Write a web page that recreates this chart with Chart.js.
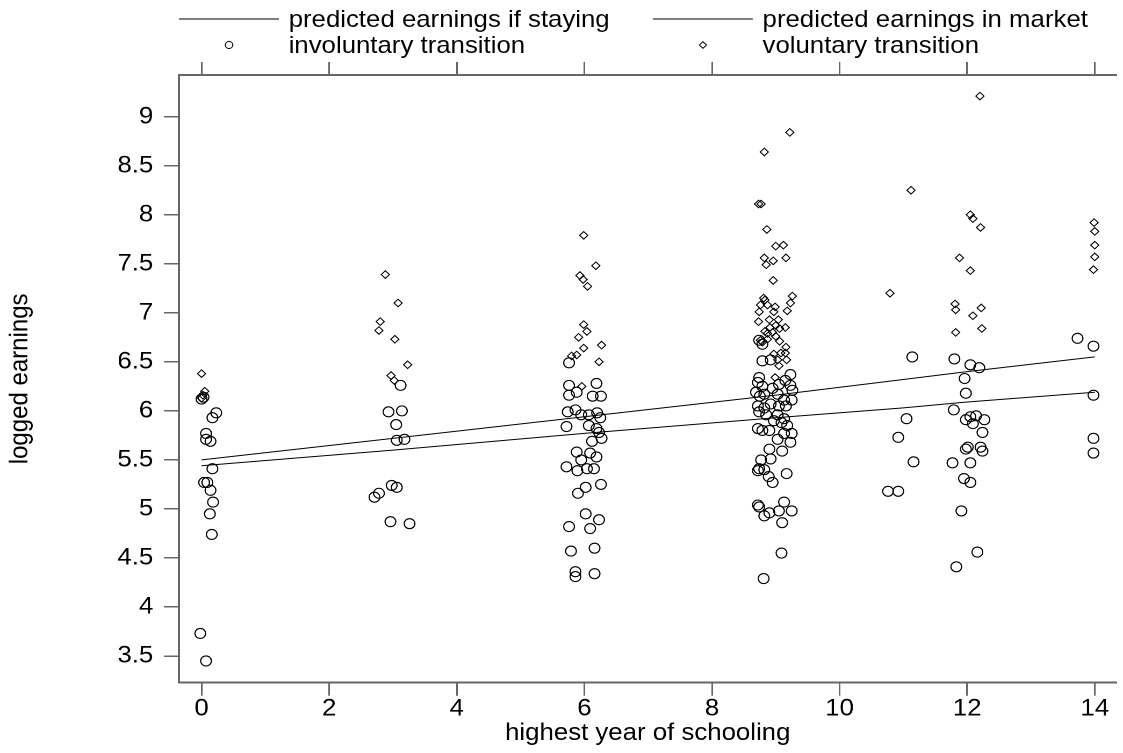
<!DOCTYPE html>
<html>
<head>
<meta charset="utf-8">
<script src="https://cdn.jsdelivr.net/npm/chart.js@4.4.1/dist/chart.umd.min.js"></script>
<style>
  html, body { margin: 0; padding: 0; background: #fff; overflow: hidden; }
  /* the reference graph is stretched about 7.5% sideways, so draw narrow and stretch */
  #wrap { position: relative; width: 1045px; height: 753px; transform: scaleX(1.07464); transform-origin: 0 0; }
  #chart { position: absolute; left: 0; top: 0; }
  #legend { position: absolute; left: 0; top: 0; font-family: "Liberation Sans", Arial, sans-serif; font-size: 24px; }
</style>
</head>
<body>
<div id="wrap">
  <canvas id="chart" width="1045" height="753"></canvas>
  <svg id="legend" width="1045" height="62"></svg>
</div>
<script>
// --- DATA ---
const xTicks = [0, 2, 4, 6, 8, 10, 12, 14];
const yTicks = [3.5, 4, 4.5, 5, 5.5, 6, 6.5, 7, 7.5, 8, 8.5, 9];

// fitted lines
const lineX = [0, 3, 6, 9, 11, 12, 14];
const stayingY = [5.50, 5.72, 5.94, 6.16, 6.32, 6.40, 6.55];
const marketY = [5.44, 5.60, 5.77, 5.93, 6.03, 6.09, 6.19];

// involuntary transition (circles)
const invX = [
  0.00, 0.03, 0.23, 0.17, 0.07, 0.07, 0.14, 0.17, 0.04, 0.09, 0.14, 0.18, 0.13, 0.16, -0.02, 0.07,
  3.12, 2.93, 3.14, 3.05, 3.06, 3.18, 2.98, 3.06, 2.78, 2.71, 2.96, 3.26,
  5.76, 5.76, 6.19, 5.76, 5.88, 6.13, 6.26, 5.74, 5.86, 5.95, 6.07, 6.20, 6.25, 5.72, 6.07, 6.19,
  6.23, 6.27, 6.12, 5.88, 6.09, 6.19, 5.95, 5.72, 5.89, 6.04, 6.15, 6.02, 5.90, 6.26, 6.02, 6.23,
  5.76, 6.09, 5.79, 6.16, 5.86, 5.86, 6.16,
  8.74, 8.79, 8.79, 8.92, 9.23, 8.74, 8.72, 8.79, 8.69, 8.75, 8.82, 8.95, 9.05, 9.15, 9.23, 9.26,
  9.03, 9.13, 9.25, 8.72, 8.82, 8.92, 9.05, 9.16, 8.74, 8.85, 9.03, 9.13, 8.97, 9.09, 9.18, 8.72,
  8.79, 8.90, 9.03, 9.13, 9.25, 9.23, 8.90, 9.10, 8.77, 8.92, 8.74, 8.72, 8.82, 8.89, 8.95, 9.17,
  8.72, 8.74, 8.82, 8.90, 9.05, 9.13, 9.25, 9.10, 9.09, 8.81,
  11.14, 11.05, 10.92, 11.16, 10.76, 10.92,
  11.80, 12.05, 12.19, 11.96, 11.98, 11.79, 11.98, 12.05, 12.14, 12.27, 12.09, 12.24, 12.01, 11.98,
  12.21, 12.24, 11.77, 12.05, 11.95, 12.05, 11.91, 12.16, 11.83,
  13.73, 13.98, 13.98, 13.98, 13.98
];
const invY = [
  6.12, 6.14, 5.98, 5.93, 5.77, 5.71, 5.69, 5.41, 5.27, 5.27, 5.19, 5.07, 4.95, 4.74, 3.73, 3.45,
  6.26, 5.99, 6.00, 5.86, 5.70, 5.71, 5.24, 5.22, 5.16, 5.12, 4.87, 4.85,
  6.49, 6.26, 6.28, 6.16, 6.19, 6.15, 6.15, 5.99, 6.01, 5.96, 5.96, 5.98, 5.93, 5.84, 5.85, 5.82,
  5.78, 5.72, 5.69, 5.58, 5.57, 5.53, 5.50, 5.43, 5.39, 5.41, 5.41, 5.22, 5.16, 5.25, 4.95, 4.89,
  4.82, 4.80, 4.57, 4.60, 4.36, 4.31, 4.34,
  6.72, 6.68, 6.51, 6.52, 6.37, 6.34, 6.29, 6.25, 6.19, 6.15, 6.17, 6.23, 6.27, 6.31, 6.26, 6.21,
  6.17, 6.11, 6.11, 6.05, 6.03, 6.07, 6.05, 6.05, 5.99, 5.96, 5.96, 5.92, 5.90, 5.88, 5.85, 5.82,
  5.80, 5.80, 5.71, 5.77, 5.77, 5.68, 5.61, 5.59, 5.50, 5.51, 5.41, 5.39, 5.40, 5.33, 5.27, 5.36,
  5.04, 5.02, 4.93, 4.96, 4.98, 5.07, 4.98, 4.86, 4.55, 4.29,
  6.55, 5.92, 5.73, 5.48, 5.18, 5.18,
  6.53, 6.47, 6.44, 6.33, 6.18, 6.01, 5.91, 5.94, 5.95, 5.91, 5.87, 5.78, 5.63, 5.61,
  5.63, 5.59, 5.47, 5.47, 5.31, 5.27, 4.98, 4.56, 4.41,
  6.74, 6.66, 6.16, 5.72, 5.57
];

// voluntary transition (diamonds)
const volX = [
  0.00, 0.05, 0.02, 0.00,
  2.88, 3.08, 2.80, 2.78, 3.03, 3.23, 2.97, 3.02,
  5.99, 6.18, 5.93, 5.98, 6.05, 5.99, 6.04, 5.91, 6.27, 5.99, 5.88, 5.80, 6.23, 5.96,
  9.22, 8.82, 8.73, 8.77, 8.86, 9.00, 9.12, 8.82, 8.85, 8.96, 9.16, 8.96, 8.81, 8.83, 9.26, 8.76,
  8.87, 8.99, 9.23, 8.74, 8.97, 9.18, 8.73, 8.90, 9.04, 8.91, 9.00, 9.06, 9.15, 8.83, 8.87, 8.95,
  8.76, 8.79, 8.87, 9.00, 9.06, 9.16, 8.97, 9.08, 9.15, 9.03, 9.17, 9.05, 8.99,
  11.12, 10.79,
  12.20, 12.05, 12.09, 12.21, 11.88, 12.05, 11.81, 11.82, 12.22, 12.09, 12.23, 11.82,
  13.99, 14.00, 14.00, 14.00, 13.98
];
const volY = [
  6.38, 6.20, 6.16, 6.13,
  7.39, 7.10, 6.91, 6.82, 6.73, 6.47, 6.36, 6.31,
  7.79, 7.48, 7.38, 7.34, 7.27, 6.88, 6.81, 6.75, 6.67, 6.64, 6.57, 6.56, 6.50, 6.25,
  8.84, 8.64, 8.11, 8.11, 7.85, 7.68, 7.69, 7.56, 7.49, 7.53, 7.56, 7.33, 7.15, 7.13, 7.17, 7.08,
  7.08, 7.06, 7.10, 7.01, 7.01, 7.02, 6.91, 6.93, 6.93, 6.85, 6.87, 6.84, 6.85, 6.81, 6.79, 6.80,
  6.72, 6.70, 6.73, 6.76, 6.71, 6.65, 6.58, 6.59, 6.59, 6.52, 6.52, 6.46, 6.34,
  8.25, 7.20,
  9.21, 8.00, 7.96, 7.87, 7.56, 7.43, 7.09, 7.03, 7.05, 6.97, 6.84, 6.80,
  7.92, 7.83, 7.69, 7.57, 7.44
];

const pts = (xs, ys) => xs.map((x, i) => ({ x: x, y: ys[i] }));

Chart.defaults.font.family = '"Liberation Sans", Arial, sans-serif';
Chart.defaults.color = '#000';

const axisColor = '#666';
const setTicks = list => scale => { scale.ticks = list.map(v => ({ value: v })); };

new Chart(document.getElementById('chart'), {
    type: 'scatter',
    data: {
        datasets: [
            {
                label: 'predicted earnings if staying',
                type: 'line',
                data: pts(lineX, stayingY),
                borderColor: '#000', borderWidth: 1, pointRadius: 0, fill: false, tension: 0
            },
            {
                label: 'predicted earnings in market',
                type: 'line',
                data: pts(lineX, marketY),
                borderColor: '#000', borderWidth: 1, pointRadius: 0, fill: false, tension: 0
            },
            {
                label: 'involuntary transition',
                data: pts(invX, invY),
                pointStyle: 'circle', pointRadius: 5, borderWidth: 1.1,
                borderColor: '#000', backgroundColor: 'rgba(0,0,0,0)'
            },
            {
                label: 'voluntary transition',
                data: pts(volX, volY),
                pointStyle: 'rectRot', pointRadius: 3.8, borderWidth: 1,
                borderColor: '#000', backgroundColor: 'rgba(0,0,0,0)'
            }
        ]
    },
    options: {
        responsive: false,
        animation: false,
        devicePixelRatio: 2,
        layout: { padding: { top: 62, left: 0, right: 0, bottom: 0 } },
        plugins: { legend: { display: false }, tooltip: { enabled: false } },
        scales: {
            x: {
                type: 'linear', position: 'bottom',
                min: -0.353, max: 14.34,
                afterBuildTicks: setTicks(xTicks),
                afterFit: s => { s.height = 70.3; },
                grid: { drawOnChartArea: false, tickLength: 13, color: axisColor, lineWidth: 1.5 },
                border: { display: true, color: axisColor, width: 2 },
                ticks: { font: { size: 24, lineHeight: 1 }, padding: 1, color: '#000', maxRotation: 0, callback: v => String(v) },
                title: { display: true, text: 'highest year of schooling', font: { size: 24 }, padding: { top: 0, bottom: 5 } }
            },
            x2: {
                type: 'linear', position: 'top',
                min: -0.353, max: 14.34,
                afterBuildTicks: setTicks(xTicks),
                afterFit: s => { s.height = 13; },
                grid: { drawOnChartArea: false, tickLength: 13, color: axisColor, lineWidth: 1.5 },
                border: { display: true, color: axisColor, width: 2 },
                ticks: { display: false }
            },
            y: {
                type: 'linear', position: 'left',
                min: 3.228, max: 9.425,
                afterBuildTicks: setTicks(yTicks),
                afterFit: s => { s.width = 166.6; },
                grid: { drawOnChartArea: false, tickLength: 14, color: axisColor, lineWidth: 1.5 },
                border: { display: true, color: axisColor, width: 2 },
                ticks: { font: { size: 24, lineHeight: 1 }, padding: 10, color: '#000', callback: v => String(v) },
                title: { display: true, text: 'logged earnings', font: { size: 24 }, padding: { top: 4.6, bottom: 0 } }
            }
        }
    }
});

// --- LEGEND (two columns, two rows, like the original) ---
const svgNS = 'http://www.w3.org/2000/svg';
const legend = document.getElementById('legend');
function add(tag, attrs, text) {
    const el = document.createElementNS(svgNS, tag);
    for (const k in attrs) el.setAttribute(k, attrs[k]);
    if (text) el.textContent = text;
    legend.appendChild(el);
}
const cols = [166.6, 607.6];   // left end of each key
const keyW = 93;
const textGap = 9;
const rows = [19, 45];
const baselines = [26.7, 53.3];
const legendLabels = ['predicted earnings if staying', 'predicted earnings in market', 'involuntary transition', 'voluntary transition'];

cols.forEach((cx, c) => {
    add('line', { x1: cx, y1: rows[0], x2: cx + keyW, y2: rows[0], stroke: '#000', 'stroke-width': 1 });
    add('text', { x: cx + keyW + textGap, y: baselines[0], fill: '#000' }, legendLabels[c]);
    add('text', { x: cx + keyW + textGap, y: baselines[1], fill: '#000' }, legendLabels[2 + c]);
});
const mid0 = cols[0] + keyW / 2, mid1 = cols[1] + keyW / 2;
add('circle', { cx: mid0, cy: rows[1], r: 3.5, fill: 'none', stroke: '#000', 'stroke-width': 1 });
add('polygon', {
    points: `${mid1 - 3.3},${rows[1]} ${mid1},${rows[1] - 3.3} ${mid1 + 3.3},${rows[1]} ${mid1},${rows[1] + 3.3}`,
    fill: 'none', stroke: '#000', 'stroke-width': 1
});
</script>
</body>
</html>
